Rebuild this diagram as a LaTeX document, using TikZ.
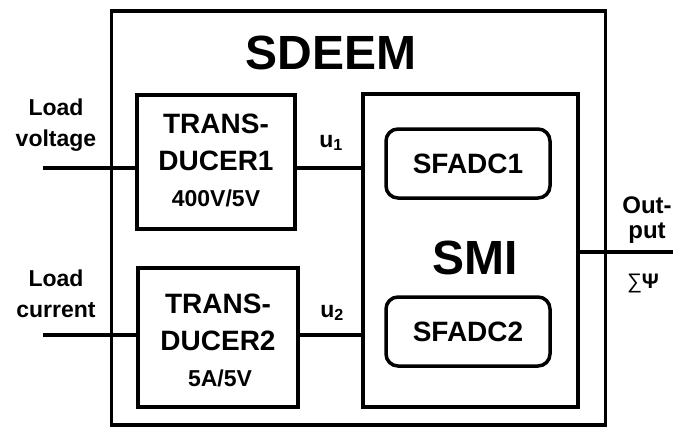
\documentclass[tikz,border=0pt]{standalone}
\usepackage{fontspec}
\setmainfont{Liberation Sans}
\begin{document}
\begin{tikzpicture}[x=1pt,y=-1pt,
  box/.style={draw,line width=3.5pt,inner sep=0pt},
  rbox/.style={draw,line width=3.5pt,rounded corners=12pt,inner sep=0pt},
  wire/.style={line width=3.5pt},
  lbl/.style={font=\bfseries\fontsize{23}{31}\selectfont,align=center,inner sep=0pt},
  big/.style={font=\bfseries\fontsize{28}{38}\selectfont,align=center,inner sep=0pt},
  small/.style={font=\bfseries\fontsize{23}{24}\selectfont,inner sep=0pt}]
\useasboundingbox (0,0) rectangle (673,434);
% outer box
\node[box,minimum width=494pt,minimum height=414pt] (sdeem) at (358.5,218) {};
\node[font=\bfseries\fontsize{48}{50}\selectfont,inner sep=0pt] (sdeemt) at (331,53) {SDEEM};
% transducers
\node[box,minimum width=158pt,minimum height=134pt] (t1) at (216,162) {};
\node[big] (t1a) at (216,124) {TRANS-};
\node[big] (t1b) at (216,161) {DUCER1};
\node[small] (t1c) at (216,198) {400V/5V};
\node[box,minimum width=160pt,minimum height=139pt] (t2) at (218,337.5) {};
\node[big] (t2a) at (218,304) {TRANS-};
\node[big] (t2b) at (218,341) {DUCER2};
\node[small] (t2c) at (220,378) {5A/5V};
% SMI
\node[box,minimum width=215pt,minimum height=313pt] (smi) at (470.5,250.5) {};
\node[font=\bfseries\fontsize{48}{50}\selectfont,inner sep=0pt] (smit) at (475,258) {SMI};
\node[rbox,minimum width=164pt,minimum height=69pt,font=\bfseries\fontsize{28}{30}\selectfont] (adc1) at (468,163.5) {SFADC1};
\node[rbox,minimum width=164pt,minimum height=69pt,font=\bfseries\fontsize{28}{30}\selectfont] (adc2) at (468,331.5) {SFADC2};
% inputs
\coordinate (vin) at (43,168);
\coordinate (iin) at (43,335);
\draw[wire] (vin) -- (vin -| t1.west);
\draw[wire] (iin) -- (iin -| t2.west);
\node[lbl] (lv) at (56,125) {Load\\voltage};
\node[lbl] (lc) at (56,294) {Load\\current};
% u lines
\draw[wire] (t1.east |- vin) -- (vin -| smi.west);
\draw[wire] (t2.east |- iin) -- (iin -| smi.west);
\node[lbl] (u1) at (331,143) {u\textsubscript{1}};
\node[lbl] (u2) at (332,313) {u\textsubscript{2}};
% output
\coordinate (out) at (673,252);
\draw[wire] (smi.east |- out) -- (out);
\node[lbl,font=\bfseries\fontsize{24}{25}\selectfont] (ol) at (647,220) {Out-\\put};
\node[font=\fontsize{21}{24}\selectfont,inner sep=0pt] (psi) at (643,283) {∑\textbf{Ψ}};
\end{tikzpicture}
\end{document}
